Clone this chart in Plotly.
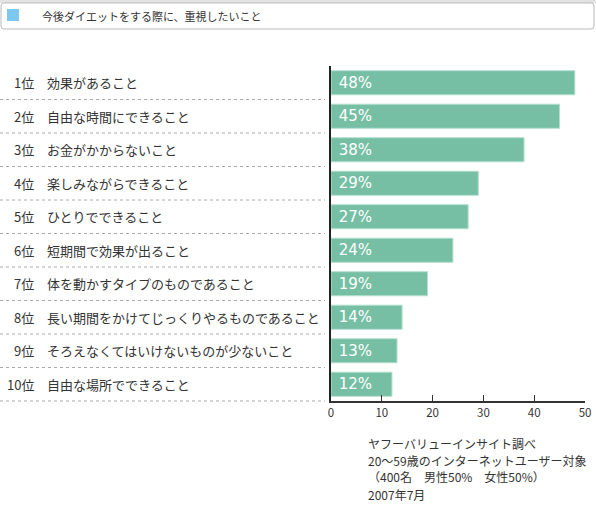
import plotly.graph_objects as go

ranks = ["1位", "2位", "3位", "4位", "5位", "6位", "7位", "8位", "9位", "10位"]
reasons = [
    "効果があること",
    "自由な時間にできること",
    "お金がかからないこと",
    "楽しみながらできること",
    "ひとりでできること",
    "短期間で効果が出ること",
    "体を動かすタイプのものであること",
    "長い期間をかけてじっくりやるものであること",
    "そろえなくてはいけないものが少ないこと",
    "自由な場所でできること",
]
percents = [48, 45, 38, 29, 27, 24, 19, 14, 13, 12]
x_ticks = [0, 10, 20, 30, 40, 50]

legend_title = "今後ダイエットをする際に、重視したいこと"
source_lines = [
    "ヤフーバリューインサイト調べ",
    "20～59歳のインターネットユーザー対象",
    "（400名　男性50%　女性50%）",
    "2007年7月",
]

FONT = "Noto Sans CJK JP, sans-serif"
W, H = 596, 507
L, R, T, B = 331, 11, 66, 106

fig = go.Figure()

fig.add_trace(go.Bar(
    y=ranks,
    x=percents,
    orientation="h",
    marker=dict(color="#76bfa5", line=dict(color="#b4e0cf", width=1)),
    texttemplate="\u00a0%{x}%",
    textposition="inside",
    insidetextanchor="start",
    textfont=dict(color="white", size=15, family="DejaVu Sans, sans-serif"),
    showlegend=False,
    hoverinfo="skip",
))

annotations = []
shapes = []

# left labels: rank + reason
for rank, reason in zip(ranks, reasons):
    annotations.append(dict(
        x=0, xref="paper", y=rank, yref="y",
        text=rank, showarrow=False, xanchor="right",
        xshift=-(L - 36), font=dict(size=13, color="#333", family=FONT),
    ))
    annotations.append(dict(
        x=0, xref="paper", y=rank, yref="y",
        text=reason, showarrow=False, xanchor="left",
        xshift=-(L - 45), font=dict(size=13, color="#333", family=FONT),
    ))

# dotted row separators
for i in range(len(ranks)):
    yy = 1 - (i + 1) / len(ranks)
    shapes.append(dict(
        type="line", xref="paper", yref="paper",
        x0=-L / (W - L - R), x1=-6 / (W - L - R), y0=yy, y1=yy,
        line=dict(color="#aaaaaa", width=1, dash="dot"),
    ))

# top grey strip and legend box
pw = W - L - R
ph = H - T - B
def px_x(p):
    return (p - L) / pw
def px_y(p):
    return 1 - (p - T) / ph

shapes.append(dict(type="rect", xref="paper", yref="paper",
                   x0=px_x(0), x1=px_x(W), y0=px_y(0), y1=px_y(3),
                   fillcolor="#e2e2e2", line=dict(width=0), layer="below"))
x0, x1, y0, y1 = 1, 594, 3, 29
r = 3
path = (f"M {px_x(x0 + r)},{px_y(y0)} L {px_x(x1 - r)},{px_y(y0)} "
        f"Q {px_x(x1)},{px_y(y0)} {px_x(x1)},{px_y(y0 + r)} "
        f"L {px_x(x1)},{px_y(y1 - r)} Q {px_x(x1)},{px_y(y1)} {px_x(x1 - r)},{px_y(y1)} "
        f"L {px_x(x0 + r)},{px_y(y1)} Q {px_x(x0)},{px_y(y1)} {px_x(x0)},{px_y(y1 - r)} "
        f"L {px_x(x0)},{px_y(y0 + r)} Q {px_x(x0)},{px_y(y0)} {px_x(x0 + r)},{px_y(y0)} Z")
shapes.append(dict(type="path", xref="paper", yref="paper", path=path,
                   fillcolor="white", line=dict(color="#bbbbbb", width=1)))
shapes.append(dict(type="rect", xref="paper", yref="paper",
                   x0=px_x(7), x1=px_x(19), y0=px_y(9), y1=px_y(21),
                   fillcolor="#7dc8ee", line=dict(width=0)))
annotations.append(dict(
    x=px_x(40), xref="paper", y=px_y(16), yref="paper",
    text=legend_title, showarrow=False, xanchor="left", yanchor="middle",
    font=dict(size=11, color="#333", family=FONT),
))

# source note
for i, line in enumerate(source_lines):
    annotations.append(dict(
        x=px_x(366), xref="paper", y=px_y(443 + i * 17), yref="paper",
        text=line, showarrow=False, xanchor="left", yanchor="middle",
        font=dict(size=12, color="#333", family=FONT),
    ))

fig.update_layout(
    width=W, height=H,
    margin=dict(l=L, r=R, t=T, b=B),
    paper_bgcolor="white", plot_bgcolor="white",
    bargap=0.28,
    font=dict(family=FONT, color="#333"),
    xaxis=dict(
        range=[0, 50], tickvals=x_ticks, ticks="inside", ticklen=6,
        tickcolor="#333", showgrid=False, zeroline=False, automargin=False,
        showline=True, linecolor="#333", linewidth=2,
        tickfont=dict(size=11.5, color="#333", family=FONT),
    ),
    yaxis=dict(
        categoryorder="array", categoryarray=ranks, autorange="reversed",
        showticklabels=False, showgrid=False, zeroline=False, automargin=False,
        showline=True, linecolor="#222", linewidth=2, ticks="",
    ),
    annotations=annotations,
    shapes=shapes,
)

# drop the default page margin so the chart sits at the window's corner
fig.write_html(
    "out.html",
    config={"displayModeBar": False},
    post_script="document.body.style.margin='0';document.body.style.overflow='hidden';",
)
